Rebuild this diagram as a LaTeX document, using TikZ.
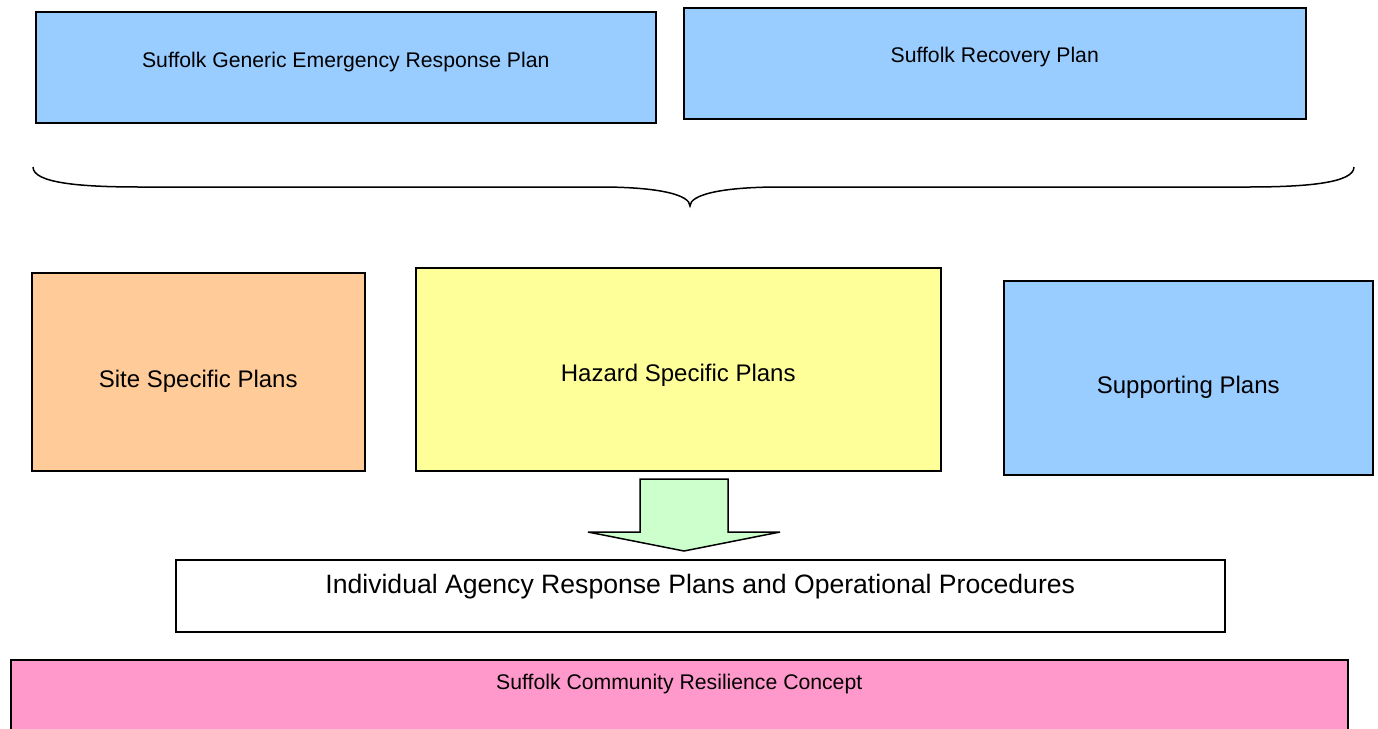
\documentclass[tikz,border=0pt]{standalone}
\usepackage{fontspec}
\setmainfont{Liberation Sans}
\usetikzlibrary{positioning}
\definecolor{planblue}{HTML}{99CCFF}
\definecolor{siteorange}{HTML}{FFCC99}
\definecolor{hazyellow}{HTML}{FFFF99}
\definecolor{arrowgreen}{HTML}{CCFFCC}
\definecolor{commpink}{HTML}{FF99CC}
\begin{document}
\begin{tikzpicture}[x=0.5pt, y=-0.5pt, line width=0.75pt,
    box/.style={draw, anchor=north west, inner sep=0pt},
    small/.style={font=\fontsize{10.6}{12}\selectfont},
    mid/.style={font=\fontsize{12}{14}\selectfont}]
  \useasboundingbox (0,0) rectangle (1378,729);

  % top row
  \node[box, fill=planblue, minimum width=310pt, minimum height=55.5pt,
        label={[small, yshift=2.75pt]center:Suffolk Generic Emergency Response Plan}] (generic) at (35,11) {};
  \node[box, fill=planblue, minimum width=311pt, minimum height=55.5pt,
        label={[small, yshift=3.25pt]center:Suffolk Recovery Plan}] (recovery) at (683,7) {};

  % brace
  \draw (33,167) .. controls (33,183) and (80,187) .. (140,187) -- (600,187)
        .. controls (660,187) and (690,195) .. (690,206)
        .. controls (690,195) and (720,187) .. (780,187) -- (1248,187)
        .. controls (1306,187) and (1354,183) .. (1354,167);

  % middle row
  \node[box, fill=siteorange, minimum width=166.5pt, minimum height=99pt,
        label={[mid, yshift=-5pt]center:Site Specific Plans}] (site) at (31,272) {};
  \node[box, fill=hazyellow, minimum width=262.5pt, minimum height=101.5pt,
        label={[mid, yshift=-3.25pt]center:Hazard Specific Plans}] (hazard) at (415,267) {};
  \node[box, fill=planblue, minimum width=184.5pt, minimum height=97pt,
        label={[mid, yshift=-5pt]center:Supporting Plans}] (supporting) at (1003,280) {};

  % block arrow
  \draw[fill=arrowgreen] (640,479) -- (728,479) -- (728,532) -- (780,532) -- (684,551)
        -- (588,532) -- (640,532) -- cycle;

  % lower boxes
  \node[box, fill=white, minimum width=524.5pt, minimum height=36pt,
        label={[font=\fontsize{13.3}{16}\selectfont, yshift=4.5pt]center:Individual Agency Response Plans and Operational Procedures}] (agency) at (175,559) {};
  \node[box, fill=commpink, minimum width=668.5pt, minimum height=60pt,
        label={[small, anchor=center, yshift=-12.5pt]north:Suffolk Community Resilience Concept}] (community) at (10,659) {};
\end{tikzpicture}
\end{document}
